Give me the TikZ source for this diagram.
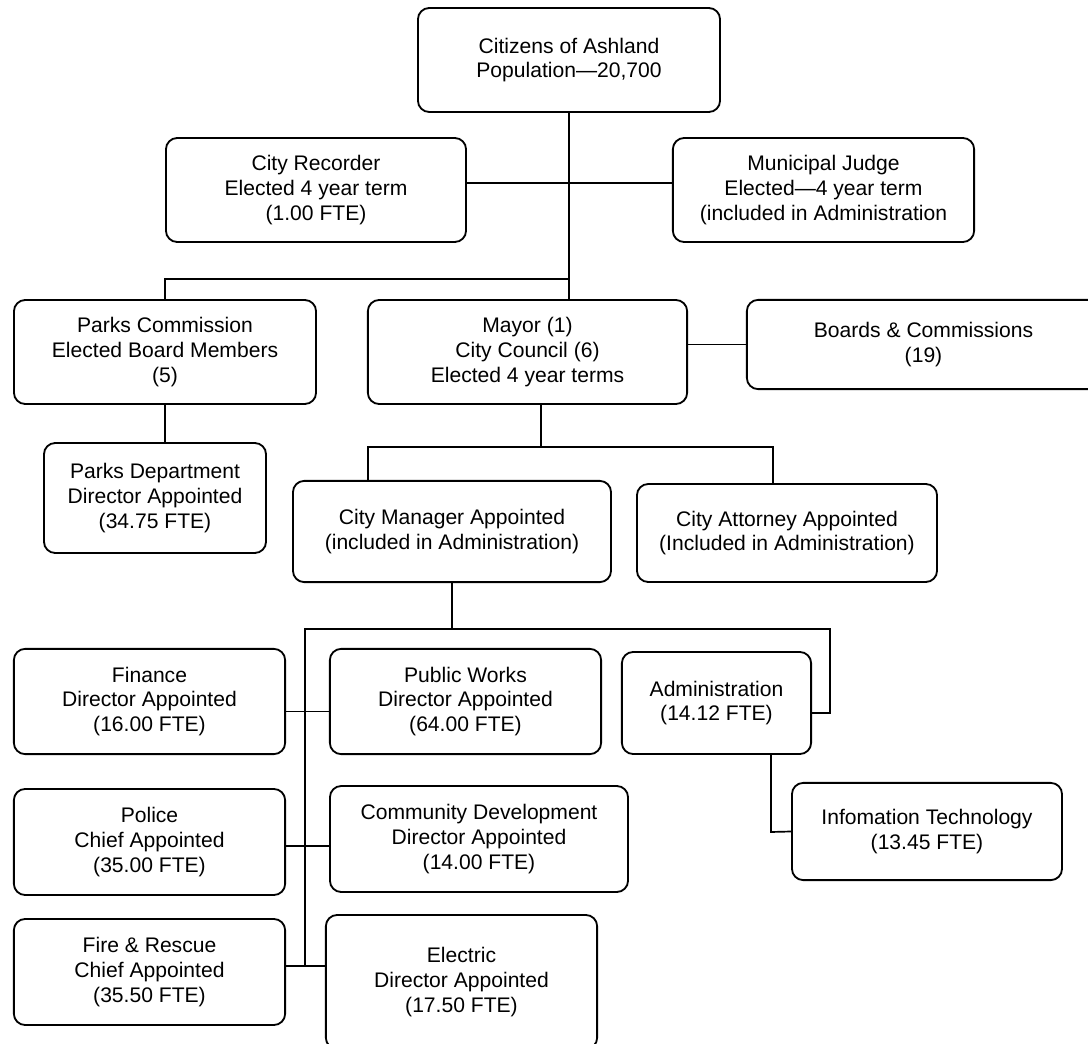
\documentclass[tikz,border=0pt]{standalone}
\usepackage{fontspec}
\setmainfont{Liberation Sans}
\usepackage{tikz}
\usetikzlibrary{calc, positioning}
\newcommand{\orgfont}{\fontsize{15}{17.7}\selectfont}
\tikzset{
  orgbox/.style = {draw=black, line width=1.3pt, rounded corners=8pt, fill=white,
                   align=center, inner sep=1pt, font=\orgfont},
  boxdim/.style 2 args = {minimum width=#1cm, minimum height=#2cm},
  link/.style   = {draw=black, line width=1.2pt},
}

\begin{document}
\begin{tikzpicture}[x=0.025cm, y=-0.025cm]
  \fill[white] (0,0) rectangle (1088,1044);
  \useasboundingbox (0,0) rectangle (1088,1044);
  \clip (0,0) rectangle (1088,1044);
  % boxes
  \node[orgbox, boxdim={7.55}{2.6}] (cit) at (569,60) {Citizens of Ashland\\Population—20,700};
  \node[orgbox, boxdim={7.5}{2.6}] (rec) at (316,190) {City Recorder\\Elected 4 year term\\(1.00 FTE)};
  \node[orgbox, boxdim={7.53}{2.6}] (judge) at (823.5,190) {Municipal Judge\\Elected—4 year term\\(included in Administration};
  \node[orgbox, boxdim={7.55}{2.6}] (parksc) at (165,352) {Parks Commission\\Elected Board Members\\(5)};
  \node[orgbox, boxdim={7.98}{2.6}] (mayor) at (527.5,352) {Mayor (1)\\City Council (6)\\Elected 4 year terms};
  \node[orgbox, boxdim={8.83}{2.23}] (boards) at (923.5,344.5) {Boards \& Commissions\\(19)};
  \node[orgbox, boxdim={5.55}{2.75}] (parksd) at (155,498) {Parks Department\\Director Appointed\\(34.75 FTE)};
  \node[orgbox, boxdim={7.95}{2.53}] (mgr) at (452,531.5) {City Manager Appointed\\(included in Administration)};
  \node[orgbox, boxdim={7.5}{2.45}] (atty) at (787,533) {City Attorney Appointed\\(Included in Administration)};
  \node[orgbox, boxdim={6.78}{2.63}] (fin) at (149.5,701.5) {Finance\\Director Appointed\\(16.00 FTE)};
  \node[orgbox, boxdim={6.78}{2.63}] (pw) at (465.5,701.5) {Public Works\\Director Appointed\\(64.00 FTE)};
  \node[orgbox, boxdim={4.73}{2.55}] (admin) at (716.5,703) {Administration\\(14.12 FTE)};
  \node[orgbox, boxdim={6.78}{2.65}] (police) at (149.5,842) {Police\\Chief Appointed\\(35.00 FTE)};
  \node[orgbox, boxdim={7.45}{2.65}] (cd) at (479,839) {Community Development\\Director Appointed\\(14.00 FTE)};
  \node[orgbox, boxdim={6.75}{2.43}] (it) at (927,831.5) {Infomation Technology\\(13.45 FTE)};
  \node[orgbox, boxdim={6.78}{2.65}] (fire) at (149.5,972) {Fire \& Rescue\\Chief Appointed\\(35.50 FTE)};
  \node[orgbox, boxdim={6.78}{3.35}] (elec) at (461.5,982) {Electric\\Director Appointed\\(17.50 FTE)};
  % junctions
  \coordinate (cbus) at (568,279);
  \coordinate (mbus) at (541,447);
  \coordinate (mgrdrop) at (368,447);
  \coordinate (attydrop) at (773,447);
  \coordinate (sbusl) at (305,629);
  \coordinate (sbusr) at (830,629);
  \coordinate (admjoin) at (830,713);
  \coordinate (itjoin) at (771,832);
  % links
  \draw[link] (cit.south) -- (cit.south |- mayor.north);
  \draw[link] ($(rec.east)+(0,-7)$) -- ($(judge.west)+(0,-7)$);
  \draw[link] (cbus) -| (parksc.north);
  \draw[link] (mayor.east |- boards.west) -- (boards.west);
  \draw[link] (parksc.south) -- (parksc.south |- parksd.north);
  \draw[link] (mbus |- mayor.south) -- (mbus);
  \draw[link] (mgrdrop |- mgr.north) -- (mgrdrop) -- (attydrop) -- (attydrop |- atty.north);
  \draw[link] (mgr.south) -- (mgr.south |- sbusl);
  \draw[link] ($(sbusl |- fire.east)+(0,-6)$) -- (sbusl) -- (sbusr) -- (admjoin) -- (admjoin -| admin.east);
  \draw[link] ($(fin.east)+(0,10)$) -- ($(pw.west)+(0,10)$);
  \draw[link] ($(police.east)+(0,4)$) -- ($(police.east -| cd.west)+(0,4)$);
  \draw[link] ($(fire.east)+(0,-6)$) -- ($(fire.east -| elec.west)+(0,-6)$);
  \draw[link] (itjoin |- admin.south) -- (itjoin) -- (it.west);
\end{tikzpicture}
\end{document}
